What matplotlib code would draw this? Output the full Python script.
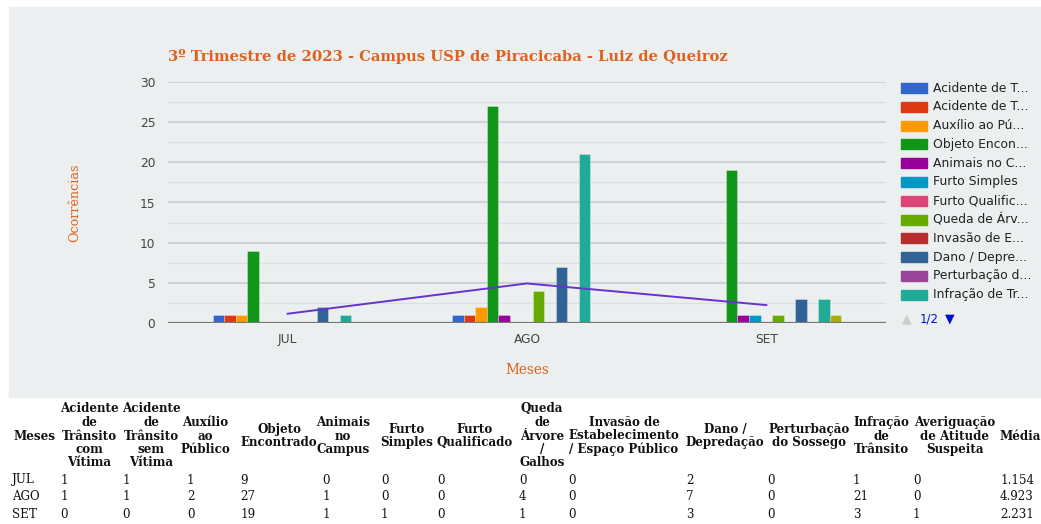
import matplotlib.pyplot as plt
import numpy as np
from matplotlib.patches import Rectangle

# Data
meses = ['JUL', 'AGO', 'SET']
series = ['Acidente de Trânsito com Vítima', 'Acidente de Trânsito sem Vítima',
          'Auxílio ao Público', 'Objeto Encontrado', 'Animais no Campus',
          'Furto Simples', 'Furto Qualificado', 'Queda de Árvore / Galhos',
          'Invasão de Estabelecimento / Espaço Público', 'Dano / Depredação',
          'Perturbação do Sossego', 'Infração de Trânsito', 'Averiguação de Atitude Suspeita']
legend_labels = ['Acidente de T...', 'Acidente de T...', 'Auxílio ao Pú...', 'Objeto Encon...',
                 'Animais no C...', 'Furto Simples', 'Furto Qualific...', 'Queda de Árv...',
                 'Invasão de E...', 'Dano / Depre...', 'Perturbação d...', 'Infração de Tr...']
valores = [
    [1, 1, 1, 9, 0, 0, 0, 0, 0, 2, 0, 1, 0],
    [1, 1, 2, 27, 1, 0, 0, 4, 0, 7, 0, 21, 0],
    [0, 0, 0, 19, 1, 1, 0, 1, 0, 3, 0, 3, 1],
]
media = [1.154, 4.923, 2.231]
media_txt = ['1.154', '4.923', '2.231']

cores = ['#3366cc', '#dc3912', '#ff9900', '#109618', '#990099', '#0099c6', '#dd4477',
         '#66aa00', '#b82e2e', '#316395', '#994499', '#22aa99', '#aaaa11']
cor_media = '#6633cc'
laranja = '#e0611b'
fundo = '#eceff0'

headers = ['Meses', 'Acidente\nde\nTrânsito\ncom\nVítima', 'Acidente\nde\nTrânsito\nsem\nVítima',
           'Auxílio\nao\nPúblico', 'Objeto\nEncontrado', 'Animais\nno\nCampus', 'Furto\nSimples',
           'Furto\nQualificado', 'Queda\nde\nÁrvore\n/\nGalhos',
           'Invasão de\nEstabelecimento\n/ Espaço Público', 'Dano /\nDepredação',
           'Perturbação\ndo Sossego', 'Infração\nde\nTrânsito', 'Averiguação\nde Atitude\nSuspeita', 'Média']
head_x = [34, 89, 151, 205, 279, 343, 407, 475, 542, 624, 725, 809, 881, 955, 1020]
data_x = [12, 60, 122, 187, 240, 322, 381, 437, 519, 568, 686, 767, 853, 913, 1000]

W, H = 1041, 524
fig = plt.figure(figsize=(W / 100, H / 100), dpi=100)
fig.patches.append(Rectangle((9 / W, 1 - 397 / H), 1, (397 - 7) / H,
                             transform=fig.transFigure, color=fundo, zorder=-10))

ax = fig.add_axes([168 / W, 1 - 323 / H, (886 - 168) / W, (323 - 82) / H])
ax.set_facecolor(fundo)

n = len(series)
x = np.arange(len(meses))
grupo = 0.627
bw = grupo / n
vals = np.array(valores)
for i in range(n):
    pos = x - grupo / 2 + bw * (i + 0.5)
    ax.bar(pos, vals[:, i], width=bw, color=cores[i], edgecolor=(1, 1, 1, 0.35),
           linewidth=0.6, zorder=3)
ax.plot(x, media, color=cor_media, linewidth=1.4, zorder=4)

ax.set_xlim(-0.5, 2.5)
ax.set_ylim(0, 30)
ax.set_yticks(range(0, 31, 5))
ax.set_yticks(np.arange(2.5, 30, 5), minor=True)
ax.grid(axis='y', which='major', color='#cbcfd1', linewidth=1.3, zorder=1)
ax.grid(axis='y', which='minor', color='#dde0e2', linewidth=1.0, zorder=1)
ax.axhline(0, color='#777777', linewidth=1.6, zorder=5)
for s in ax.spines.values():
    s.set_visible(False)
ax.set_xticks(x)
ax.set_xticklabels(meses)
ax.tick_params(axis='both', which='both', length=0, labelsize=8.8, labelcolor='#444444')
ax.tick_params(axis='y', pad=9)
ax.tick_params(axis='x', pad=7)

fig.text(168 / W, 1 - 57 / H, '3º Trimestre de 2023 - Campus USP de Piracicaba - Luiz de Queiroz',
         family='DejaVu Serif', weight='bold', fontsize=10.6, color=laranja, va='center', ha='left')
fig.text(75 / W, 1 - 203 / H, 'Ocorrências', family='DejaVu Serif', fontsize=9.2,
         color=laranja, rotation=90, va='center', ha='center')
fig.text(527 / W, 1 - 370 / H, 'Meses', family='DejaVu Serif', fontsize=9.8,
         color=laranja, va='center', ha='center')

# legend (page 1/2)
for i, lab in enumerate(legend_labels):
    yc = 88 + i * 18.8
    fig.patches.append(Rectangle((901 / W, 1 - (yc + 5) / H), 26 / W, 10 / H,
                                 transform=fig.transFigure, color=cores[i], zorder=2))
    fig.text(933 / W, 1 - yc / H, lab, fontsize=8.9, color='#222222', va='center', ha='left')
fig.text(907 / W, 1 - 319 / H, '▲', fontsize=9, color='#cccccc', va='center', ha='center')
fig.text(929 / W, 1 - 319 / H, '1/2', fontsize=8.5, color='#0011cc', va='center', ha='center')
fig.text(950 / W, 1 - 319 / H, '▼', fontsize=9, color='#0011cc', va='center', ha='center')

# table below chart
for hx, hd in zip(head_x, headers):
    fig.text(hx / W, 1 - 436 / H, hd, family='DejaVu Serif', weight='bold', fontsize=8.6,
             color='#111111', ha='center', va='center', linespacing=1.05, multialignment='center')
for r, mes in enumerate(meses):
    yr = 480 + r * 17
    linha = [mes] + [str(v) for v in valores[r]] + [media_txt[r]]
    for dx, txt in zip(data_x, linha):
        fig.text(dx / W, 1 - yr / H, txt, family='DejaVu Serif', fontsize=8.6,
                 color='#111111', ha='left', va='center')

fig.savefig('out.png', dpi=100, facecolor='white')
